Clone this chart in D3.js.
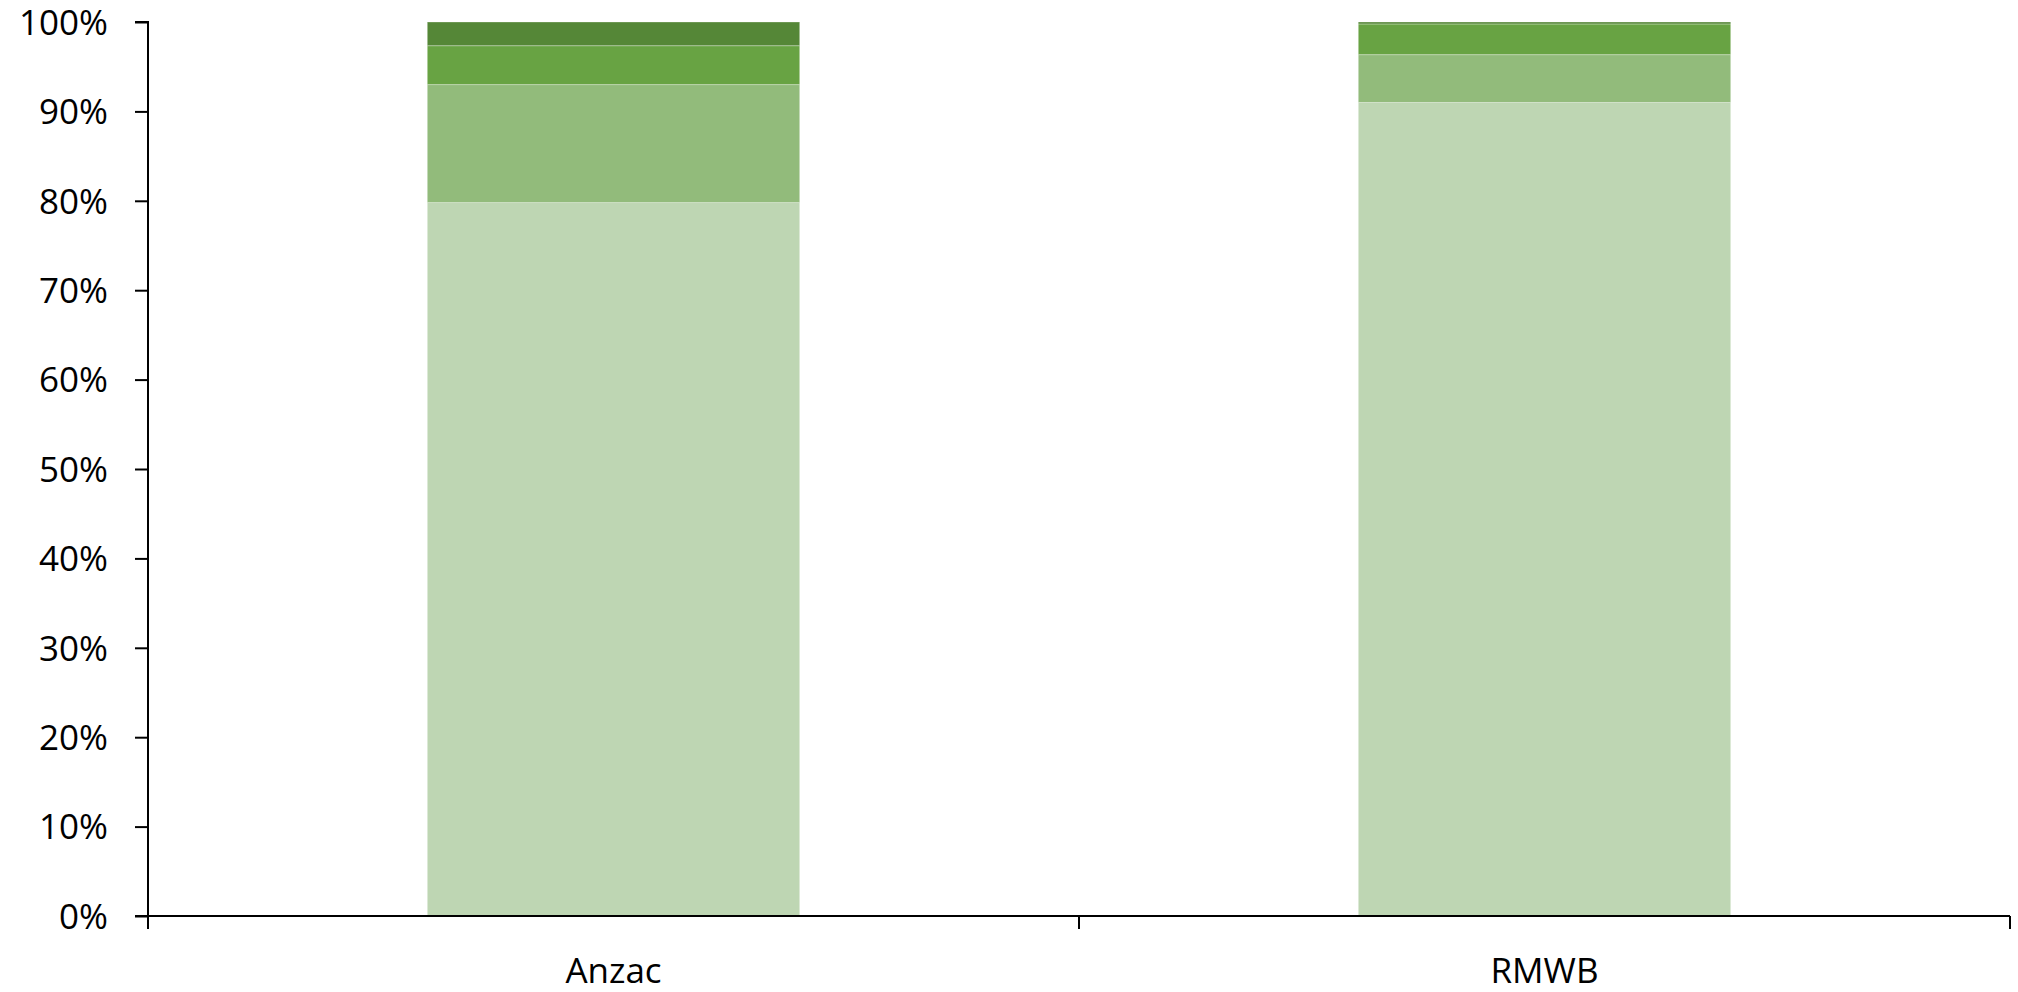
<!DOCTYPE html>
<html>
<head>
<meta charset="utf-8">
<script src="https://cdn.jsdelivr.net/npm/d3@7"></script>
<style>
  html, body { margin: 0; padding: 0; background: #fff; }
  svg { display: block; }
  text { font-family: "Open Sans", "Liberation Sans", sans-serif; fill: #000; }
</style>
</head>
<body>
<svg id="chart" width="2018" height="992"></svg>
<script>
// ---- data ----
const categories = ["Anzac", "RMWB"];
const seriesNames = ["S1", "S2", "S3", "S4"];
const s1 = [79.8, 91.0];
const s2 = [13.2, 5.35];
const s3 = [4.35, 3.43];
const s4 = [2.65, 0.22];
const yTicks = [0, 10, 20, 30, 40, 50, 60, 70, 80, 90, 100];
const colors = ["#BED6B3", "#92BB7B", "#68A343", "#558737"];

// ---- layout ----
const svg = d3.select("#chart");
const mLeft = 148, mRight = 2010, mTop = 22, mBottom = 916;

const x = d3.scaleBand().domain(categories).range([mLeft, mRight]).paddingInner(0.6).paddingOuter(0.3);
const xOuter = d3.scaleBand().domain(categories).range([mLeft, mRight]);
const y = d3.scaleLinear().domain([0, 100]).range([mBottom, mTop]);

const rows = categories.map((c, i) => ({ cat: c, S1: s1[i], S2: s2[i], S3: s3[i], S4: s4[i] }));
const stacked = d3.stack().keys(seriesNames)(rows);

svg.append("g").selectAll("g").data(stacked).join("g")
  .attr("fill", (d, i) => colors[i])
  .selectAll("rect").data(d => d).join("rect")
  .attr("x", d => x(d.data.cat))
  .attr("width", x.bandwidth())
  .attr("y", d => y(d[1]))
  .attr("height", d => y(d[0]) - y(d[1]))
  .attr("stroke", "#ffffff")
  .attr("stroke-opacity", 0.3)
  .attr("stroke-width", 1);

// y axis
const yAxis = d3.axisLeft(y).tickValues(yTicks).tickFormat(d => d + "%").tickSize(13).tickPadding(27);
const gy = svg.append("g").attr("transform", `translate(${mLeft},0)`).call(yAxis);
gy.select(".domain").attr("stroke", "#000").attr("stroke-width", 2).attr("d", `M-13,${mTop}H0V${mBottom}H-13`);
gy.selectAll(".tick line").attr("stroke", "#000").attr("stroke-width", 2);
gy.selectAll(".tick text").style("font-size", "35px").attr("dy", "0.35em");

// x axis
const gx = svg.append("g").attr("transform", `translate(0,${mBottom})`);
gx.append("line").attr("x1", mLeft).attr("x2", mRight).attr("y1", 0).attr("y2", 0)
  .attr("stroke", "#000").attr("stroke-width", 2);
const tickPositions = [mLeft, ...categories.map(c => xOuter(c) + xOuter.bandwidth())];
gx.selectAll("line.t").data(tickPositions).join("line").attr("class", "t")
  .attr("x1", d => d).attr("x2", d => d).attr("y1", 0).attr("y2", 13)
  .attr("stroke", "#000").attr("stroke-width", 2);
gx.selectAll("text").data(categories).join("text")
  .attr("x", d => x(d) + x.bandwidth() / 2)
  .attr("y", 67)
  .attr("text-anchor", "middle")
  .style("font-size", "35px")
  .text(d => d);
</script>
</body>
</html>
